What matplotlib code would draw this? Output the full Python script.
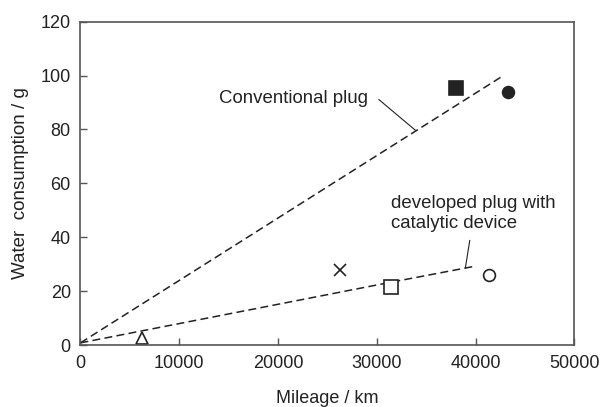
import matplotlib
matplotlib.use("Agg")
import matplotlib.pyplot as plt

plt.rcParams["font.family"] = ["Liberation Sans", "DejaVu Sans"]

# measured points (mileage km, water g)
pts_x = [38000, 43300, 26300, 31400, 41300, 6200]
pts_y = [95.4, 93.9, 27.9, 21.7, 25.8, 2.6]
pts_m = ["s", "o", "x", "s", "o", "^"]
pts_fill = [True, True, False, False, False, False]
pts_ms = [10, 8.5, 8.5, 9.5, 8.5, 8.5]

# trend lines
conv_x = [0, 42800]
conv_y = [0.8, 100]
dev_x = [0, 31000, 40000]
dev_y = [0.8, 23, 29.3]

ink = "#222222"
fig = plt.figure(figsize=(6.02, 4.07), dpi=100)
ax = fig.add_axes([0.1337, 0.1523, 0.8206, 0.7944])

ax.plot(conv_x, conv_y, color=ink, lw=1.1, ls=(0, (5.2, 2.8)))
ax.plot(dev_x, dev_y, color=ink, lw=1.1, ls=(0, (5.2, 2.8)))

for x, y, m, f, ms in zip(pts_x, pts_y, pts_m, pts_fill, pts_ms):
    if m == "x":
        ax.plot(x, y, marker="x", color=ink, ms=ms, mew=1.2, ls="none")
    else:
        ax.plot(x, y, marker=m, ms=ms, ls="none", mec=ink, mew=1.2,
                mfc=ink if f else "white")

# annotations
ax.text(14000, 91.4, "Conventional plug", fontsize=13.4, color=ink, va="center")
ax.plot([30200, 33900], [91.1, 79.7], color=ink, lw=0.8)
ax.text(31400, 48.8, "developed plug with\ncatalytic device", fontsize=13.4,
        color=ink, va="center", linespacing=1.3)
ax.plot([39400, 38950], [38.8, 28.5], color=ink, lw=0.8)

ax.set_xlim(0, 50000)
ax.set_ylim(0, 120)
ax.set_xticks(range(0, 50001, 10000))
ax.set_yticks(range(0, 121, 20))
ax.tick_params(direction="in", length=5, width=1, colors="#555555",
               labelcolor=ink, labelsize=13, pad=7)
for s in ax.spines.values():
    s.set_color("#555555")
    s.set_linewidth(1.2)

ax.set_xlabel("Mileage / km", fontsize=13, color=ink, labelpad=13)
ax.set_ylabel("Water  consumption / g", fontsize=13.5, color=ink, labelpad=8)

fig.savefig("out.png", dpi=100)
